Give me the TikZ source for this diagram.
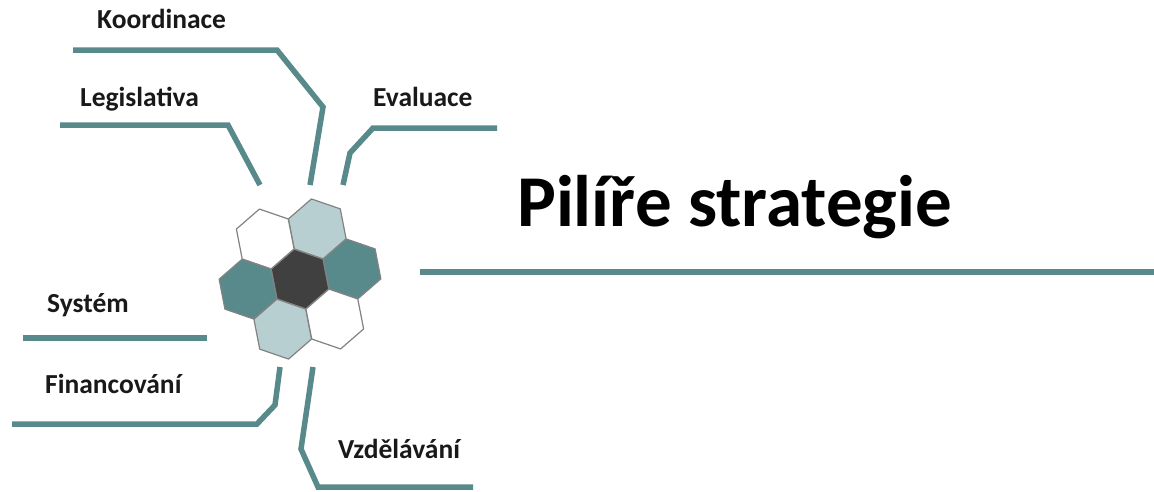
\documentclass[tikz,border=0pt]{standalone}
\usepackage{fontspec}
\setmainfont{Carlito}
\usetikzlibrary{calc}
\definecolor{teal1}{RGB}{88,138,140}
\definecolor{teallight}{RGB}{183,207,209}
\definecolor{hexdark}{RGB}{64,64,64}
\definecolor{hexedge}{RGB}{130,130,130}
\begin{document}
\begin{tikzpicture}[x=1pt,y=-1pt,
  pillar/.style={draw=teal1,line width=5.5pt},
  label/.style={font=\fontsize{27.5}{33}\selectfont\bfseries,anchor=base west,inner sep=0pt,text=black!90},
  hexline/.style={draw=hexedge,line width=1.2pt,line join=round}]
\useasboundingbox (0,0) rectangle (1154,491);
\fill[white] (0,0) rectangle (1154,491);
\def\R{30.5}
\def\D{53}
\coordinate (C) at (300,279);
% hexagon cells
\foreach \ang [count=\i] in {-11, 289, 229, 169, 109, 49}{
  \coordinate (h\i) at ($(C)+(\ang:\D)$);
}
\foreach \name/\col in {C/hexdark, h1/teal1, h2/teallight, h3/white, h4/teal1, h5/teallight, h6/white}{
  \draw[hexline,fill=\col] (\name) +(19:\R) -- +(79:\R) -- +(139:\R) -- +(199:\R) -- +(259:\R) -- +(319:\R) -- cycle;
}
% labels
\node[label] (koord) at (97,28) {Koordinace};
\node[label] (legis) at (80,106) {Legislativa};
\node[label] (eval) at (373,106) {Evaluace};
\node[label] (syst) at (47,312) {Systém};
\node[label] (fin) at (45,393) {Financování};
\node[label] (vzd) at (338,458) {Vzdělávání};
\node[font=\fontsize{73}{80}\selectfont\bfseries,anchor=base west,inner sep=0pt] (title) at (517,226) {Pilíře strategie};
% lines
\coordinate (k0) at (73,50);
\coordinate (k3) at (310,185);
\draw[pillar] (k0) -- (277,50) -- (323,107) -- (k3);
\coordinate (l0) at (60,125);
\coordinate (l2) at (260,185);
\draw[pillar] (l0) -- (228,125) -- (l2);
\coordinate (e0) at (497,128);
\coordinate (e3) at (343,185);
\draw[pillar] (e0) -- (373,128) -- (350,153) -- (e3);
\coordinate (s0) at (23,338);
\coordinate (s1) at (207,338);
\draw[pillar] (s0) -- (s1);
\coordinate (f0) at (12,424);
\coordinate (f3) at (280,367);
\draw[pillar] (f0) -- (257,424) -- (275,405) -- (f3);
\coordinate (v0) at (313,367);
\coordinate (v3) at (473,487);
\draw[pillar] (v0) -- (301,449) -- (318,487) -- (v3);
\coordinate (m0) at (420,272);
\coordinate (m1) at (1154,272);
\draw[pillar] (m0) -- (m1);
\end{tikzpicture}
\end{document}
